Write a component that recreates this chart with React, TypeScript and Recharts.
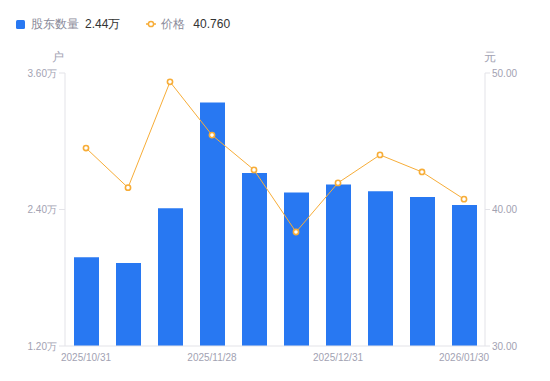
import React from 'react';
import { ComposedChart, Bar, Line, XAxis, YAxis } from 'recharts';

const dates = [
  '2025/10/31', '2025/11/10', '2025/11/20', '2025/11/28', '2025/12/10',
  '2025/12/19', '2025/12/31', '2026/01/09', '2026/01/20', '2026/01/30',
];
// shareholders, in 万户
const holders = [1.98, 1.93, 2.41, 3.34, 2.72, 2.55, 2.62, 2.56, 2.51, 2.44];
// price, 元
const prices = [44.5, 41.6, 49.35, 45.45, 42.9, 38.35, 41.95, 44.0, 42.75, 40.76];

const shownDates = ['2025/10/31', '2025/11/28', '2025/12/31', '2026/01/30'];
const leftTicks = [1.2, 2.4, 3.6];
const rightTicks = [30, 40, 50];

const BLUE = '#2878f2';
const ORANGE = '#f7ad38';
const AXIS = '#e3e3e8';
const TICK = '#a2a2b2';
const FONT = '"Liberation Sans", Arial, sans-serif';

const data = dates.map((d, i) => ({ date: d, holders: holders[i], price: prices[i] }));

const App: React.FC = () => {
  const lastHolders = holders[holders.length - 1].toFixed(2) + '万';
  const lastPrice = prices[prices.length - 1].toFixed(3);

  return (
    <div style={{ position: 'absolute', left: 0, top: 0, width: 550, height: 381, fontFamily: FONT, background: '#fff' }}>
      <div style={{ position: 'absolute', left: 16, top: 15, display: 'flex', alignItems: 'center', fontSize: 12, lineHeight: '18px' }}>
        <span style={{ display: 'inline-block', width: 9, height: 9, borderRadius: 1.5, background: BLUE, marginRight: 6 }} />
        <span style={{ color: '#8a8a99', marginRight: 6 }}>股东数量</span>
        <span style={{ color: '#333' }}>{lastHolders}</span>
        <svg width={10} height={10} style={{ marginLeft: 26, marginRight: 5 }}>
          <line x1={0} y1={5} x2={10} y2={5} stroke={ORANGE} strokeWidth={1.5} />
          <circle cx={5} cy={5} r={2.6} fill="#fff" stroke={ORANGE} strokeWidth={1.5} />
        </svg>
        <span style={{ color: '#8a8a99', marginRight: 8 }}>价格</span>
        <span style={{ color: '#333' }}>{lastPrice}</span>
      </div>
      <ComposedChart width={550} height={381} data={data} margin={{ top: 73, right: 0, bottom: 0, left: 0 }}>
        <XAxis
          dataKey="date"
          interval={0}
          tickLine={false}
          tickSize={0}
          tickMargin={8}
          axisLine={{ stroke: AXIS }}
          tick={{ fill: TICK, fontSize: 10, fontFamily: FONT }}
          tickFormatter={(v: string) => (shownDates.includes(v) ? v : '')}
          height={35}
        />
        <YAxis
          yAxisId="left"
          orientation="left"
          width={65}
          domain={[1.2, 3.6]}
          ticks={leftTicks}
          tickSize={6}
          tickMargin={2}
          axisLine={{ stroke: AXIS }}
          tickLine={{ stroke: AXIS }}
          tick={{ fill: TICK, fontSize: 10, fontFamily: FONT }}
          tickFormatter={(v: number) => v.toFixed(2) + '万'}
          label={({ viewBox }: any) => (
            <text x={viewBox.x + viewBox.width - 7} y={viewBox.y - 12} textAnchor="middle" fill={TICK} fontSize={12} fontFamily={FONT}>户</text>
          )}
        />
        <YAxis
          yAxisId="right"
          orientation="right"
          width={65}
          domain={[30, 50]}
          ticks={rightTicks}
          tickSize={5}
          tickMargin={2}
          axisLine={{ stroke: AXIS }}
          tickLine={{ stroke: AXIS }}
          tick={{ fill: TICK, fontSize: 10, fontFamily: FONT }}
          tickFormatter={(v: number) => v.toFixed(2)}
          label={({ viewBox }: any) => (
            <text x={viewBox.x + 5} y={viewBox.y - 12} textAnchor="middle" fill={TICK} fontSize={12} fontFamily={FONT}>元</text>
          )}
        />
        <Bar yAxisId="left" dataKey="holders" fill={BLUE} barSize={25} isAnimationActive={false} />
        <Line
          yAxisId="right"
          dataKey="price"
          type="linear"
          stroke={ORANGE}
          strokeWidth={1}
          dot={{ r: 2.6, fill: '#fff', stroke: ORANGE, strokeWidth: 1.6 }}
          activeDot={false}
          isAnimationActive={false}
        />
      </ComposedChart>
    </div>
  );
};

export default App;
